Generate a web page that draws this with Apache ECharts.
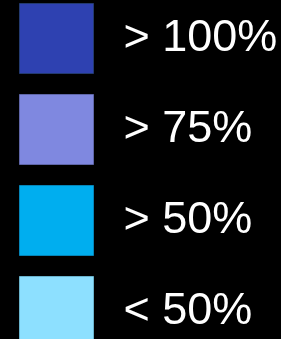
<!DOCTYPE html>
<html>
<head>
<meta charset="utf-8">
<script src="https://cdn.jsdelivr.net/npm/echarts@6/dist/echarts.min.js"></script>
<style>
  html, body { margin: 0; padding: 0; background: #000; }
  #chart { width: 281px; height: 339px; }
</style>
</head>
<body>
<div id="chart"></div>
<script>
  // legend classes
  const labels = ['> 100%', '> 75%', '> 50%', '< 50%']
  const colors = ['#2e41b1', '#7f88e0', '#00aeef', '#8de0ff']
  const borders = ['#233a70', '#5f66a8', '#0585b8', '#6ab3cc']

  const chart = echarts.init(document.getElementById('chart'))

  chart.setOption({
    backgroundColor: '#000',
    animation: false,
    grid: { left: 0, right: 0, top: 0, bottom: 0, show: false },
    xAxis: { type: 'category', show: false, data: [] },
    yAxis: { type: 'value', show: false },
    legend: {
      orient: 'vertical',
      left: 19,
      top: 3,
      height: 400,
      padding: 0,
      itemWidth: 74,
      itemHeight: 70,
      itemGap: 20,
      icon: 'rect',
      selectedMode: false,
      textStyle: {
        color: '#fff',
        fontFamily: 'Liberation Sans, Arial, sans-serif',
        fontSize: 45,
        padding: [0, 0, 0, 25]
      },
      data: labels.map((name, i) => ({
        name: name,
        itemStyle: { color: colors[i], borderColor: borders[i], borderWidth: 1 }
      }))
    },
    series: labels.map((name, i) => ({
      name: name,
      type: 'bar',
      data: [],
      itemStyle: { color: colors[i] }
    }))
  })
</script>
</body>
</html>
